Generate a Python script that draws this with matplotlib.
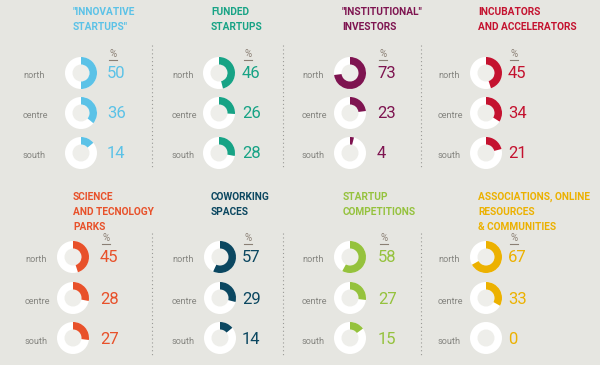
"""Regional share of startup-ecosystem actors, shown as small donut charts."""

import matplotlib.pyplot as plt
from matplotlib.patches import Circle, Wedge

# data
titles = [
    ['"INNOVATIVE', 'STARTUPS"'],
    ["FUNDED", "STARTUPS"],
    ['"INSTITUTIONAL"', "INVESTORS"],
    ["INCUBATORS", "AND ACCELERATORS"],
    ["SCIENCE", "AND TECNOLOGY", "PARKS"],
    ["COWORKING", "SPACES"],
    ["STARTUP", "COMPETITIONS"],
    ["ASSOCIATIONS, ONLINE", "RESOURCES", "& COMMUNITIES"],
]
regions = ["north", "centre", "south"]
north = [50, 46, 73, 45, 45, 57, 58, 67]
centre = [36, 26, 23, 34, 28, 29, 27, 33]
south = [14, 28, 4, 21, 27, 14, 15, 0]
colors = ["#5bc2e7", "#17a385", "#7e1450", "#c4122f",
          "#e8512a", "#0b4760", "#95c23d", "#ecb100"]

# layout (pixels, y downward)
BG = "#e6e6e1"
donut_x = [81, 219, 350, 486, 73, 220, 350, 486]
label_x = [23, 172, 302, 438, 25, 172, 302, 438]
value_x = [107, 242, 377, 508, 100, 242, 378, 508]
title_x = [73, 211, 342, 478, 73, 211, 343, 478]
row_y = [[73, 113, 153], [257, 298, 338]]
title_y = [12, 197]
sep_x = [152, 283, 421]
sep_y = [(45, 168), (233, 357)]

R_OUT, R_IN = 16, 8.5

fig = plt.figure(figsize=(6, 3.65), dpi=100, facecolor=BG)
ax = fig.add_axes([0, 0, 1, 1])
ax.set_xlim(0, 600)
ax.set_ylim(365, 0)
ax.set_aspect("equal")
ax.axis("off")

for i, title in enumerate(titles):
    row = i // 4
    col = colors[i]
    cx = donut_x[i]
    for j, line in enumerate(title):
        ax.text(title_x[i], title_y[row] + j * 15, line, color=col,
                fontsize=7.3, fontweight="bold", family="Roboto",
                va="center", ha="left")

    values = [north[i], centre[i], south[i]]
    for k, (name, v) in enumerate(zip(regions, values)):
        cy = row_y[row][k]
        ax.add_patch(Circle((cx, cy), R_OUT, color="white", lw=0))
        ax.add_patch(Circle((cx, cy), R_IN, color="#eeeeea", lw=0))
        if v > 0:
            ax.add_patch(Wedge((cx, cy), R_OUT, -90, -90 + 3.6 * v,
                               width=R_OUT - R_IN, color=col, lw=0))
        ax.text(label_x[i], cy + 3, name, color="#858580", fontsize=6.6,
                family="Roboto", va="center", ha="left")
        ax.text(value_x[i], cy + 1, str(v), color=col, fontsize=12,
                family="Roboto", va="center", ha="left")

    # "%" marker above the first value
    py = row_y[row][0] - 19
    ax.text(value_x[i] + 6, py, "%", color="#8a7f74", fontsize=7,
            family="Roboto", va="center", ha="center")
    ax.plot([value_x[i] + 2, value_x[i] + 10], [py + 5.5, py + 5.5],
            color="#8a7f74", lw=0.8)

for row in range(2):
    for x in sep_x:
        ax.plot([x, x], sep_y[row], color="#9a9a96", lw=0.8,
                linestyle=(0, (1, 2.5)))

fig.savefig("out.png", dpi=100, facecolor=BG)
